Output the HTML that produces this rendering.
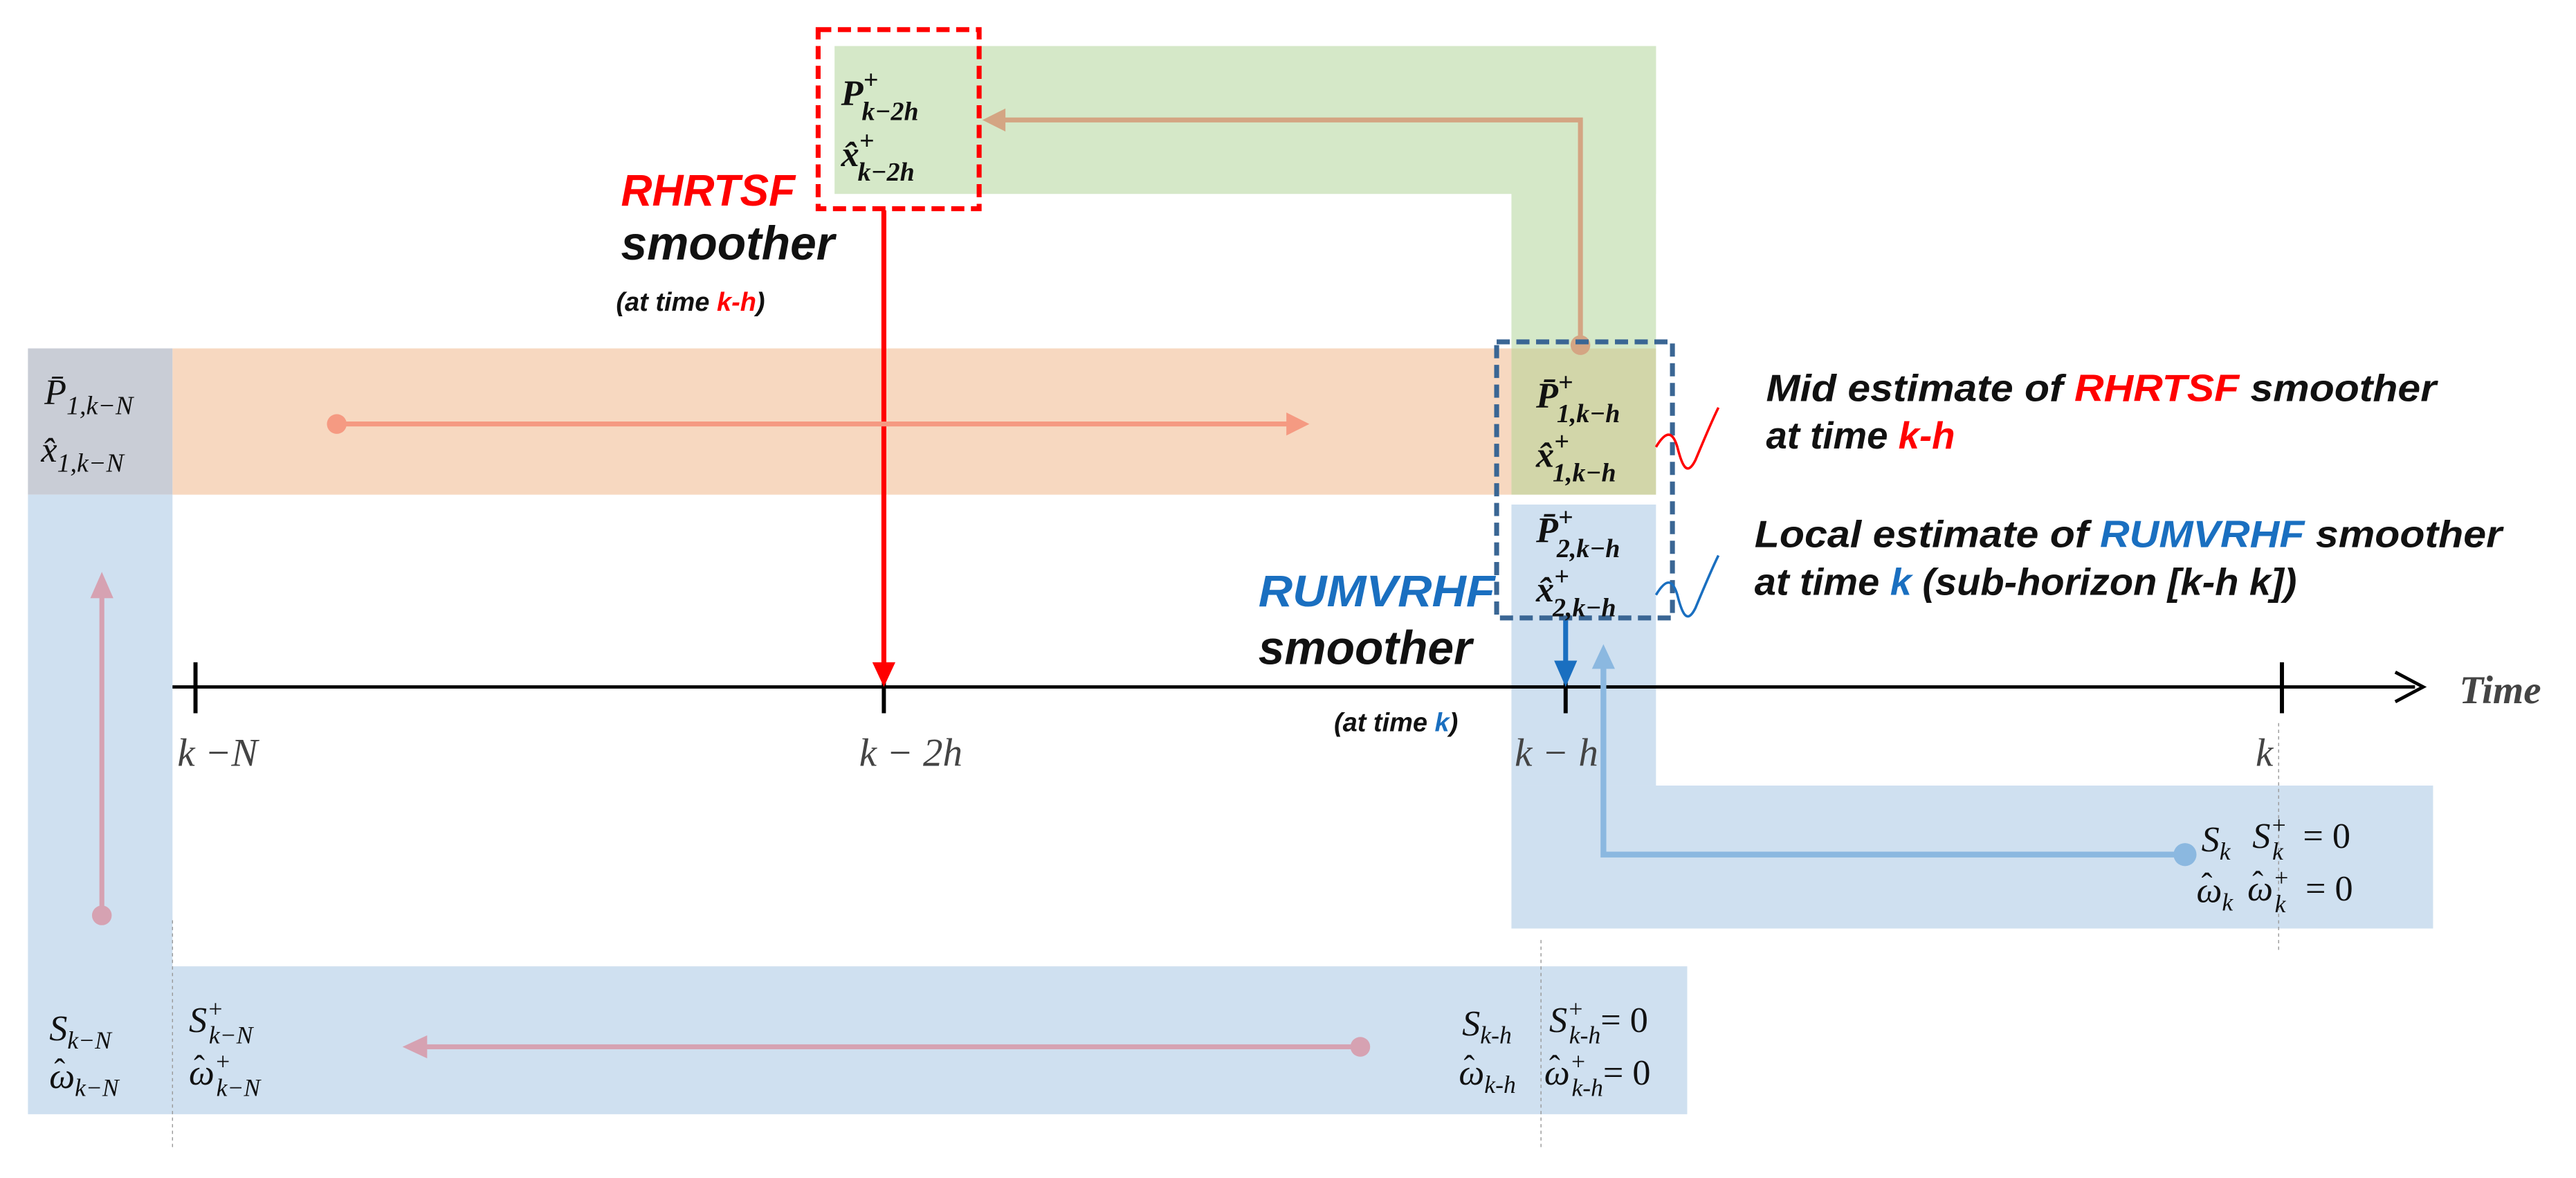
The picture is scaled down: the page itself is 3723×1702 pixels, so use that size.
<!DOCTYPE html>
<html><head><meta charset="utf-8"><style>
html,body{margin:0;padding:0;background:#fff;width:3723px;height:1702px;overflow:hidden}
svg{display:block}
.m{font-family:"Liberation Serif",serif;font-style:italic;fill:#111}
.mb{font-family:"Liberation Serif",serif;font-style:italic;font-weight:bold;fill:#111}
.h{font-family:"Liberation Serif",serif;fill:#111}
.s{font-family:"Liberation Sans","Noto Sans CJK KR",sans-serif;font-style:italic;font-weight:bold}
.ax{font-family:"Liberation Serif",serif;font-style:italic;fill:#444}
</style></head><body>
<svg width="3723" height="1702" viewBox="0 0 1568 716.8" xmlns="http://www.w3.org/2000/svg">
<rect x="508" y="28" width="500" height="90" fill="#d5e8c8"/>
<rect x="920" y="28" width="88" height="184" fill="#d5e8c8"/>
<rect x="105" y="212" width="815" height="89" fill="#f7d8c0"/>
<rect x="17" y="212" width="88" height="89" fill="#c9cdd6"/>
<rect x="920" y="212" width="88" height="89" fill="#d2d6a9"/>
<rect x="17" y="301" width="88" height="377" fill="#cfe0f0"/>
<rect x="105" y="588" width="922" height="90" fill="#cfe0f0"/>
<rect x="920" y="307" width="88" height="171" fill="#cfe0f0"/>
<rect x="920" y="478" width="561" height="87" fill="#cfe0f0"/>
<g stroke="#999" stroke-width="0.6" stroke-dasharray="2,2">
<line x1="105" y1="560" x2="105" y2="700"/>
<line x1="938" y1="572" x2="938" y2="700"/>
<line x1="1387" y1="440" x2="1387" y2="580"/>
</g>
<line x1="105" y1="418" x2="1470" y2="418" stroke="#000" stroke-width="2"/>
<polyline points="1458,409 1475,418 1458,427" fill="none" stroke="#000" stroke-width="2"/>
<g stroke="#000" stroke-width="2.5">
<line x1="119" y1="403" x2="119" y2="434"/>
<line x1="538" y1="403" x2="538" y2="434"/>
<line x1="953" y1="403" x2="953" y2="434"/>
<line x1="1389" y1="403" x2="1389" y2="434"/>
</g>
<text class="ax" x="108" y="466" font-size="24">k −N</text>
<text class="ax" x="523" y="466" font-size="24">k − 2h</text>
<text class="ax" x="922" y="466" font-size="24">k − h</text>
<text class="ax" x="1373" y="466" font-size="24">k</text>
<text class="ax" x="1497" y="428" font-size="24" font-weight="bold">Time</text>
<line x1="538" y1="128" x2="538" y2="405" stroke="#f00" stroke-width="3"/>
<polygon points="531,403 545,403 538,418" fill="#f00"/>
<polyline points="962,212 962,73 610,73" fill="none" stroke="#d4a583" stroke-width="3"/>
<polygon points="612,66 612,80 598,73" fill="#d4a583"/>
<circle cx="962" cy="210" r="6" fill="#d4a583"/>
<line x1="205" y1="258" x2="785" y2="258" stroke="#f59a82" stroke-width="3"/>
<circle cx="205" cy="258" r="6" fill="#f59a82"/>
<polygon points="783,251 797,258 783,265" fill="#f59a82"/>
<line x1="62" y1="557" x2="62" y2="362" stroke="#d6a2b2" stroke-width="3"/>
<circle cx="62" cy="557" r="6" fill="#d6a2b2"/>
<polygon points="55,364 69,364 62,348" fill="#d6a2b2"/>
<line x1="828" y1="637" x2="258" y2="637" stroke="#d6a2b2" stroke-width="3"/>
<circle cx="828" cy="637" r="6" fill="#d6a2b2"/>
<polygon points="260,630 260,644 245,637" fill="#d6a2b2"/>
<line x1="953" y1="376" x2="953" y2="405" stroke="#1a6fc0" stroke-width="3"/>
<polygon points="946,402 960,402 953,418" fill="#1a6fc0"/>
<polyline points="1330,520 976,520 976,405" fill="none" stroke="#8bb8e0" stroke-width="3.5"/>
<circle cx="1330" cy="520" r="7" fill="#8bb8e0"/>
<polygon points="969,407 983,407 976,392" fill="#8bb8e0"/>
<rect x="498" y="18" width="98" height="109" fill="none" stroke="#f00" stroke-width="3" stroke-dasharray="8,4"/>
<rect x="911" y="208" width="107" height="168" fill="none" stroke="#3a6694" stroke-width="3" stroke-dasharray="8,4"/>
<path d="M1008,272 C1014,262 1018,262 1021,272 C1024,284 1027,290 1032,280 C1037,268 1042,256 1046,248" fill="none" stroke="#f00" stroke-width="1.5"/>
<path d="M1008,362 C1014,352 1018,352 1021,362 C1024,374 1027,380 1032,370 C1037,358 1042,346 1046,338" fill="none" stroke="#1a6fc0" stroke-width="1.5"/>
<text class="mb" x="512" y="64" font-size="22">P<tspan dy="-10" font-size="16">+</tspan><tspan dx="-10" dy="19" font-size="16">k−2h</tspan></text>
<text class="mb" x="512" y="101" font-size="22">x̂<tspan dy="-10" font-size="16">+</tspan><tspan dx="-10" dy="19" font-size="16">k−2h</tspan></text>
<text class="m" x="27" y="246" font-size="22">P̄<tspan dy="6" font-size="16">1,k−N</tspan></text>
<text class="m" x="25" y="281" font-size="22">x̂<tspan dy="6" font-size="16">1,k−N</tspan></text>
<text class="mb" x="935" y="248" font-size="22">P̄<tspan dy="-10" font-size="16">+</tspan><tspan dx="-10" dy="19" font-size="16">1,k−h</tspan></text>
<text class="mb" x="935" y="284" font-size="22">x̂<tspan dy="-10" font-size="16">+</tspan><tspan dx="-10" dy="19" font-size="16">1,k−h</tspan></text>
<text class="mb" x="935" y="330" font-size="22">P̄<tspan dy="-10" font-size="16">+</tspan><tspan dx="-10" dy="19" font-size="16">2,k−h</tspan></text>
<text class="mb" x="935" y="366" font-size="22">x̂<tspan dy="-10" font-size="16">+</tspan><tspan dx="-10" dy="19" font-size="16">2,k−h</tspan></text>
<!-- S / omega -->
<text class="m" x="30" y="633" font-size="22">S<tspan dy="5" font-size="15">k−N</tspan></text>
<text class="m" x="30" y="662" font-size="22">ω<tspan dy="5" font-size="15">k−N</tspan></text>
<text class="h" x="33" y="658" font-size="20">ˆ</text>
<text class="m" x="115" y="628" font-size="22">S<tspan dy="-9" font-size="15">+</tspan><tspan dx="-9" dy="16" font-size="15">k−N</tspan></text>
<text class="m" x="115" y="660" font-size="22">ω<tspan dy="-9" font-size="15">+</tspan><tspan dx="-9" dy="16" font-size="15">k−N</tspan></text>
<text class="h" x="118" y="656" font-size="20">ˆ</text>
<text class="m" x="890" y="630" font-size="22">S<tspan dy="5" font-size="15">k-h</tspan></text>
<text class="m" x="888" y="660" font-size="22">ω<tspan dy="5" font-size="15">k-h</tspan></text>
<text class="h" x="891" y="656" font-size="20">ˆ</text>
<text class="m" x="943" y="628" font-size="22">S<tspan dy="-9" font-size="15">+</tspan><tspan dx="-9" dy="16" font-size="15">k-h</tspan><tspan dy="-7" font-style="normal">= 0</tspan></text>
<text class="m" x="940" y="660" font-size="22">ω<tspan dy="-9" font-size="15">+</tspan><tspan dx="-9" dy="16" font-size="15">k-h</tspan><tspan dy="-7" font-style="normal">= 0</tspan></text>
<text class="h" x="943" y="656" font-size="20">ˆ</text>
<text class="m" x="1340" y="518" font-size="22">S<tspan dy="5" font-size="15">k</tspan></text>
<text class="m" x="1337" y="549" font-size="22">ω<tspan dy="5" font-size="15">k</tspan></text>
<text class="h" x="1340" y="545" font-size="20">ˆ</text>
<text class="m" x="1371" y="516" font-size="22">S<tspan dy="-9" font-size="15">+</tspan><tspan dx="-9" dy="16" font-size="15">k</tspan><tspan dx="12" dy="-7" font-style="normal">= 0</tspan></text>
<text class="m" x="1368" y="548" font-size="22">ω<tspan dy="-9" font-size="15">+</tspan><tspan dx="-9" dy="16" font-size="15">k</tspan><tspan dx="12" dy="-7" font-style="normal">= 0</tspan></text>
<text class="h" x="1371" y="544" font-size="20">ˆ</text>
<!-- captions -->
<text class="s" x="378" y="125" font-size="27" fill="#f00" textLength="106" lengthAdjust="spacingAndGlyphs">RHRTSF</text>
<text class="s" x="378" y="158" font-size="29" fill="#111" textLength="130" lengthAdjust="spacingAndGlyphs">smoother</text>
<text class="s" x="375" y="189" font-size="16" fill="#111">(at time <tspan fill="#f00">k-h</tspan>)</text>
<text class="s" x="766" y="369" font-size="27" fill="#1a6fc0" textLength="144" lengthAdjust="spacingAndGlyphs">RUMVRHF</text>
<text class="s" x="766" y="404" font-size="29" fill="#111" textLength="130" lengthAdjust="spacingAndGlyphs">smoother</text>
<text class="s" x="812" y="445" font-size="16" fill="#111">(at time <tspan fill="#1a6fc0">k</tspan>)</text>
<text class="s" x="1075" y="244" font-size="23" fill="#111" textLength="408" lengthAdjust="spacingAndGlyphs">Mid estimate of <tspan fill="#f00">RHRTSF</tspan> smoother</text>
<text class="s" x="1075" y="273" font-size="23" fill="#111">at time <tspan fill="#f00">k-h</tspan></text>
<text class="s" x="1068" y="333" font-size="23" fill="#111" textLength="455" lengthAdjust="spacingAndGlyphs">Local estimate of <tspan fill="#1a6fc0">RUMVRHF</tspan> smoother</text>
<text class="s" x="1068" y="362" font-size="23" fill="#111" textLength="330" lengthAdjust="spacingAndGlyphs">at time <tspan fill="#1a6fc0">k</tspan> (sub-horizon [k-h k])</text>
</svg>
</body></html>
